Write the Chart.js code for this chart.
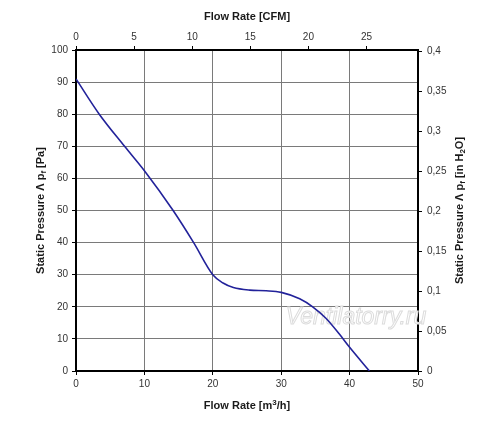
<!DOCTYPE html>
<html>
<head>
<meta charset="utf-8">
<script src="https://cdn.jsdelivr.net/npm/chart.js@4.4.1/dist/chart.umd.min.js"></script>
<style>
  html, body { margin: 0; padding: 0; background: #fff; }
  #wrap { width: 500px; height: 437px; }
</style>
</head>
<body>
<div id="wrap"><canvas id="grafica" width="500" height="437"></canvas></div>
<script>
// curva: caudal [m3/h] y presion estatica [Pa]
const caudal = [0, 3.4, 7.1, 10, 14.2, 17.2, 20, 21.5, 23, 25.4, 27.8, 30, 32.7, 34.6, 36.5, 38.5, 40, 42.9];
const presion = [91, 80, 70, 62.4, 50, 40, 30, 27.4, 26, 25.2, 25, 24.5, 22.5, 20, 16.5, 11.5, 7.4, 0];

// marcas de los ejes
const ticksM3h = [0, 10, 20, 30, 40, 50];
const ticksCFM = [0, 5, 10, 15, 20, 25];
const ticksPa = [0, 10, 20, 30, 40, 50, 60, 70, 80, 90, 100];
const ticksH2O = [0, 0.05, 0.1, 0.15, 0.2, 0.25, 0.3, 0.35, 0.4];

const M3H_POR_CFM = 1.699;
const PA_POR_INH2O = 249.089;

const fuenteTicks = { family: 'Liberation Sans, Arial, sans-serif', size: 10 };
const fuenteTitulo = 'bold 11px "Liberation Sans", Arial, sans-serif';
const fuenteSub = 'bold 8px "Liberation Sans", Arial, sans-serif';

function fijarTicks(lista) {
  return scale => { scale.ticks = lista.map(v => ({ value: v })); };
}

// texto con subindices / superindices, centrado en (x, y)
function textoRico(ctx, partes, x, y, rot) {
  ctx.save();
  ctx.translate(x, y);
  if (rot) ctx.rotate(rot);
  let ancho = 0;
  partes.forEach(p => {
    ctx.font = (p.sub || p.sup) ? fuenteSub : fuenteTitulo;
    ancho += ctx.measureText(p.t).width;
  });
  let cx = -ancho / 2;
  ctx.fillStyle = '#1a1a1a';
  ctx.textBaseline = 'middle';
  ctx.textAlign = 'left';
  partes.forEach(p => {
    ctx.font = (p.sub || p.sup) ? fuenteSub : fuenteTitulo;
    let dy = 0;
    if (p.sup) dy = -3;
    else if (p.sub) dy = 3;
    ctx.fillText(p.t, cx, dy);
    cx += ctx.measureText(p.t).width;
  });
  ctx.restore();
}

const titulos = {
  id: 'titulos',
  beforeDatasetsDraw(chart) {
    const ctx = chart.ctx;
    // marca de agua
    ctx.save();
    ctx.font = 'italic 23px "Liberation Sans", Arial, sans-serif';
    ctx.textAlign = 'center';
    ctx.textBaseline = 'middle';
    ctx.lineWidth = 1;
    ctx.fillStyle = '#ffffff';
    ctx.strokeStyle = '#dcdcdc';
    ctx.fillText('Ventilatorry.ru', 356, 318);
    ctx.strokeText('Ventilatorry.ru', 356, 318);
    ctx.restore();
  },
  afterDraw(chart) {
    const ctx = chart.ctx;
    const a = chart.chartArea;
    const cx = (a.left + a.right) / 2;
    const cy = (a.top + a.bottom) / 2;
    textoRico(ctx, [{ t: 'Flow Rate [CFM]' }], cx, 17, 0);
    textoRico(ctx, [{ t: 'Flow Rate [m' }, { t: '3', sup: true }, { t: '/h]' }], cx, 406, 0);
    textoRico(ctx, [{ t: 'Static Pressure Λ p' }, { t: 'f', sub: true }, { t: ' [Pa]' }], 41, cy, -Math.PI / 2);
    textoRico(ctx, [{ t: 'Static Pressure Λ p' }, { t: 'f', sub: true }, { t: ' [in H' }, { t: '2', sub: true }, { t: 'O]' }], 460, cy, -Math.PI / 2);
  }
};

const ctx = document.getElementById('grafica').getContext('2d');
const puntos = caudal.map((x, i) => ({ x, y: presion[i] }));

new Chart(ctx, {
  type: 'line',
  data: {
    datasets: [{
      data: puntos,
      borderColor: '#22229a',
      borderWidth: 1.6,
      pointRadius: 0,
      fill: false,
      cubicInterpolationMode: 'monotone',
      xAxisID: 'x',
      yAxisID: 'y'
    }]
  },
  options: {
    responsive: false,
    animation: false,
    layout: { padding: 0 },
    plugins: { legend: { display: false }, tooltip: { enabled: false } },
    scales: {
      x: {
        type: 'linear', position: 'bottom', min: 0, max: 50,
        afterBuildTicks: fijarTicks(ticksM3h),
        afterFit: s => { s.height = 66; },
        ticks: { color: '#333', font: fuenteTicks, padding: 3, maxRotation: 0 },
        grid: { color: '#7a7a7a', lineWidth: 1, tickLength: 4, tickColor: '#000' },
        border: { color: '#000', width: 2 }
      },
      x2: {
        type: 'linear', position: 'top', min: 0, max: 50 / M3H_POR_CFM,
        afterBuildTicks: fijarTicks(ticksCFM),
        afterFit: s => { s.height = 50; },
        ticks: { color: '#333', font: fuenteTicks, padding: 3, maxRotation: 0 },
        grid: { drawOnChartArea: false, tickLength: 4, tickColor: '#000' },
        border: { color: '#000', width: 2 }
      },
      y: {
        type: 'linear', position: 'left', min: 0, max: 100,
        afterBuildTicks: fijarTicks(ticksPa),
        afterFit: s => { s.width = 76; },
        ticks: { color: '#333', font: fuenteTicks, padding: 4 },
        grid: { color: '#7a7a7a', lineWidth: 1, tickLength: 4, tickColor: '#000' },
        border: { color: '#000', width: 2 }
      },
      y2: {
        type: 'linear', position: 'right', min: 0, max: 100 / PA_POR_INH2O,
        afterBuildTicks: fijarTicks(ticksH2O),
        afterFit: s => { s.width = 82; },
        ticks: {
          color: '#333', font: fuenteTicks, padding: 5,
          callback: v => String(Math.round(v * 100) / 100).replace('.', ',')
        },
        grid: { drawOnChartArea: false, tickLength: 4, tickColor: '#000' },
        border: { color: '#000', width: 2 }
      }
    }
  },
  plugins: [titulos]
});
</script>
</body>
</html>
